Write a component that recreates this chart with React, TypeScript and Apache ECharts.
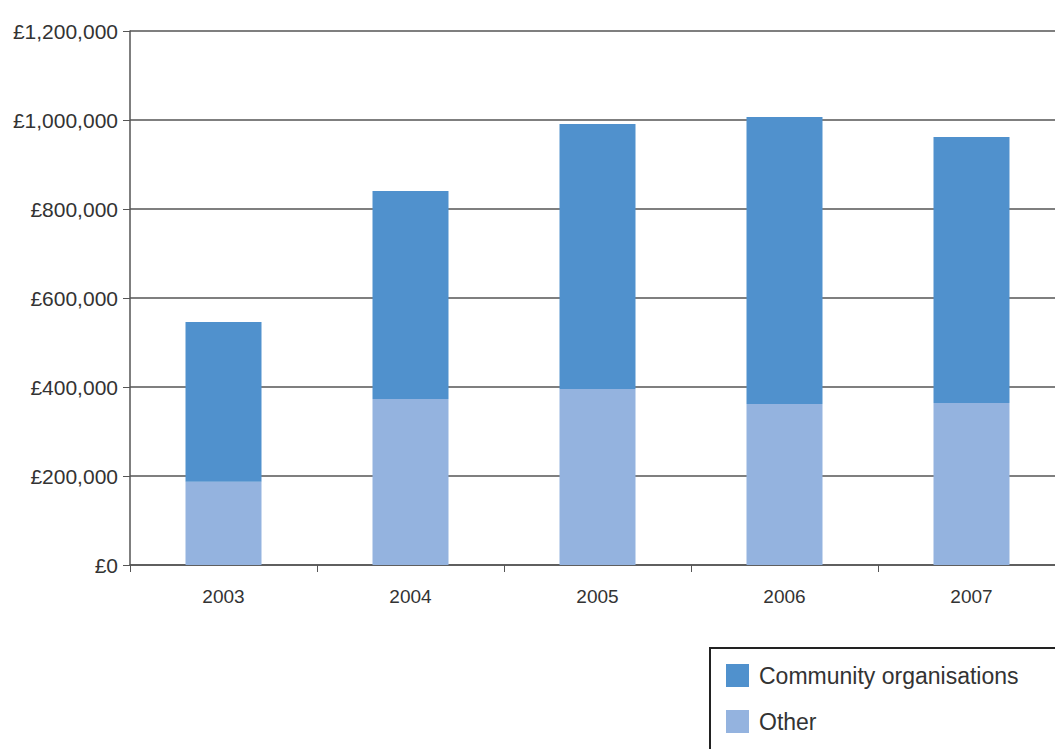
import React, { useEffect, useRef } from "react";
import * as echarts from "echarts";

const years = ["2003", "2004", "2005", "2006", "2007"];
const otherValues = [187000, 373000, 395500, 362000, 364000];
const communityValues = [359000, 467500, 595500, 645000, 598000];
const seriesNames = ["Community organisations", "Other"];

export default function App() {
  const ref = useRef<HTMLDivElement>(null);
  useEffect(() => {
    if (!ref.current) return;
    const chart = echarts.init(ref.current, undefined, { renderer: "svg" });
    const font = "'Liberation Sans', Arial, Helvetica, sans-serif";
    chart.setOption({
      animation: false,
      backgroundColor: "#ffffff",
      textStyle: { fontFamily: font },
      grid: {
        left: 130,
        top: 31,
        width: 935,
        height: 534,
        containLabel: false,
        outerBoundsMode: "none",
      },
      legend: {
        orient: "vertical",
        left: 721,
        top: 659,
        itemWidth: 23,
        itemHeight: 23,
        itemGap: 23,
        icon: "rect",
        data: seriesNames,
        textStyle: { fontSize: 23, color: "#333", fontFamily: font, padding: [0, 0, 0, 5] },
      },
      graphic: [
        {
          type: "rect",
          shape: { x: 710, y: 648, width: 400, height: 200 },
          style: { fill: "none", stroke: "#222", lineWidth: 2 },
          z: -1,
        },
      ],
      xAxis: {
        type: "category",
        data: years,
        axisLine: { show: true, lineStyle: { color: "#555", width: 1.5 } },
        axisTick: { show: true, alignWithLabel: false, length: 7, lineStyle: { color: "#555" } },
        axisLabel: { fontSize: 19, color: "#333", margin: 22, fontFamily: font },
      },
      yAxis: {
        type: "value",
        min: 0,
        max: 1200000,
        interval: 200000,
        axisLine: { show: true, lineStyle: { color: "#555", width: 1.5 } },
        axisTick: { show: true, length: 7, lineStyle: { color: "#555" } },
        splitLine: { show: true, lineStyle: { color: "#555", width: 1.5 } },
        axisLabel: {
          fontSize: 21,
          color: "#333",
          margin: 12,
          fontFamily: font,
          formatter: (v: number) => "£" + v.toLocaleString("en-GB"),
        },
      },
      series: [
        {
          name: "Other",
          type: "bar",
          stack: "total",
          barWidth: 76,
          data: otherValues,
          itemStyle: { color: "#94b3df" },
        },
        {
          name: "Community organisations",
          type: "bar",
          stack: "total",
          barWidth: 76,
          data: communityValues,
          itemStyle: { color: "#5091cd" },
        },
      ],
    });
    return () => chart.dispose();
  }, []);
  return (
    <div
      ref={ref}
      style={{ position: "fixed", left: 0, top: 0, width: 1055, height: 749 }}
    />
  );
}
